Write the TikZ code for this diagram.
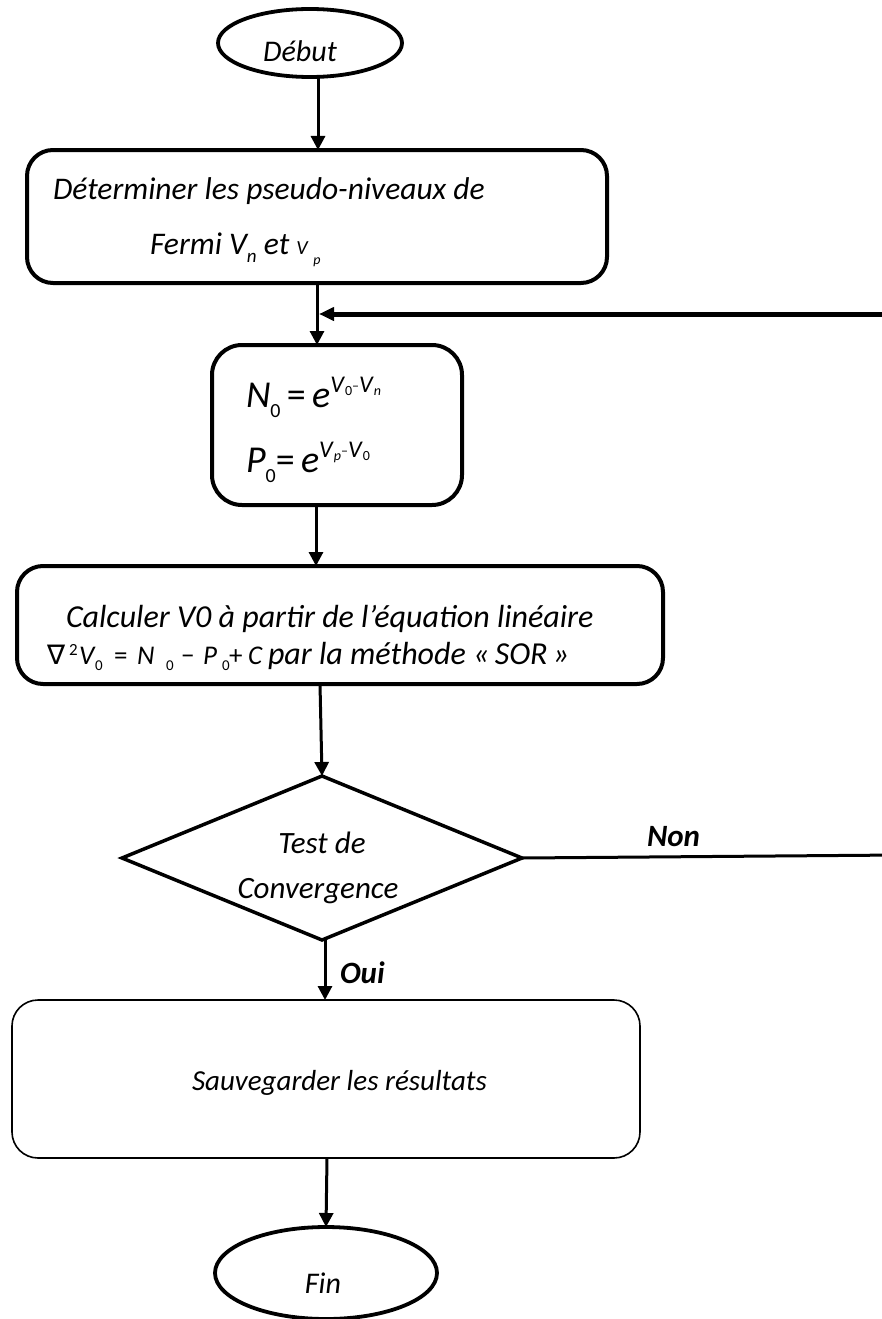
\documentclass[tikz,border=0pt]{standalone}
\usepackage{fontspec}
\setmainfont{Carlito}
\newfontfamily\symfont{DejaVu Sans}
\usetikzlibrary{shapes.geometric,arrows.meta}

% font size shorthand and a zero-width box set at a horizontal offset
\newcommand{\fs}[1]{\fontsize{#1}{#1}\selectfont}
\newcommand{\putat}[2]{\makebox[0pt][l]{\hspace*{#1pt}#2}}

\begin{document}
\begin{tikzpicture}[x=1pt,y=-1pt,
  every node/.style={inner sep=0pt, outer sep=0pt},
  thickbox/.style={draw, line width=4pt, rounded corners=26pt},
  thinbox/.style={draw, line width=1.6pt, rounded corners=26pt},
  terminal/.style={draw, ellipse, line width=3.8pt},
  decision/.style={draw, diamond, aspect=2.44, line width=3.5pt},
  flow/.style={line width=3pt, -{Triangle[width=14pt,length=14pt]}},
  txt/.style={font=\fs{29}\itshape, anchor=base west},
  lbl/.style={font=\fs{31}\bfseries\itshape, anchor=base west},
]
\useasboundingbox (0,0) rectangle (882,1319);
\clip (0,0) rectangle (882,1319);

% start
\node[terminal, minimum width=184pt, minimum height=68pt] (debut) at (310,43) {};
\node[txt, font=\fs{30}\itshape, anchor=base] (tdebut) at (300,62) {Début};

% step 1
\node[thickbox, minimum width=580pt, minimum height=133pt] (det) at (317,216.5) {};
\node[txt, font=\fs{31.5}\itshape] (t1a) at (53,199) {Déterminer les pseudo-niveaux de};
\node[txt, font=\fs{31.5}\itshape] (t1b) at (150,254) {Fermi \textit{V}\raisebox{-8pt}{\fs{19}\itshape n} et
  {\fs{20}\itshape V}\raisebox{-10pt}{\fs{14}\itshape\, p}};

% step 2: carrier densities
\node[thickbox, rounded corners=30pt, minimum width=250pt, minimum height=160pt] (dens) at (337,425) {};
\node[anchor=base west, font=\fs{38}] (eqn) at (246,407)
  {\textit{N}\raisebox{-10pt}{\fs{20}0}\,=\,\textit{e}\raisebox{15pt}{\fs{24}\textit{V}\raisebox{-3pt}{\fs{14}0}\raisebox{2pt}{\fs{14}–}\textit{V}\raisebox{-3pt}{\fs{14}\itshape n}}};
\node[anchor=base west, font=\fs{38}] (eqp) at (246,472)
  {\textit{P}\raisebox{-10pt}{\fs{20}0}=\,\textit{e}\raisebox{15pt}{\fs{24}\textit{V}\raisebox{-3pt}{\fs{14}\itshape p}\raisebox{2pt}{\fs{14}–}\textit{V}\raisebox{-3pt}{\fs{14}0}}};

% step 3: Poisson equation
\node[thickbox, minimum width=646pt, minimum height=118pt] (poisson) at (340,625) {};
\node[txt, font=\fs{32}\itshape] (t3a) at (66,627) {Calculer V0 à partir de l’équation linéaire};
\node[anchor=base west, font=\fs{27}] (t3eq) at (47,664) {%
  \putat{0}{{\symfont ∇}}%
  \putat{22}{\raisebox{9pt}{\fs{17}2}}%
  \putat{32}{\textit{V}}%
  \putat{48}{\raisebox{-6pt}{\fs{15}0}}%
  \putat{67}{=}%
  \putat{90}{\textit{N}}%
  \putat{119}{\raisebox{-6pt}{\fs{15}0}}%
  \putat{134}{−}%
  \putat{156}{\textit{P}}%
  \putat{175}{\raisebox{-6pt}{\fs{15}0}}%
  \putat{182}{+}%
  \putat{201}{\textit{C}}\hspace*{220pt}};
\node[txt, font=\fs{32}\itshape] (t3b) at (268,664) {par la méthode «\,SOR\,»};

% convergence test
\node[decision, minimum width=400pt, minimum height=164pt] (test) at (322,858) {};
\node[txt, font=\fs{31}\itshape, anchor=base] (t4a) at (322,853) {Test de};
\node[txt, font=\fs{31}\itshape, anchor=base] (t4b) at (318,898) {Convergence};

% save
\node[thinbox, minimum width=628pt, minimum height=158pt] (save) at (326,1079) {};
\node[txt] (t5) at (192,1090) {Sauvegarder les résultats};

% end
\node[terminal, minimum width=222pt, minimum height=92pt] (fin) at (326,1273) {};
\node[txt, font=\fs{30}\itshape, anchor=base] (tfin) at (323,1293) {Fin};

% connectors
\coordinate (join) at (319,314);
\coordinate (nonend) at (900,855);
\coordinate (backstart) at (900,314);
\draw[flow] ([xshift=8pt]debut.south) -- ([xshift=1pt]det.north);
\draw[flow] ([xshift=0pt]det.south) -- ([xshift=-20pt]dens.north);
\draw[flow] ([xshift=-21pt]dens.south) -- ([xshift=-24pt]poisson.north);
\draw[flow] ([xshift=-20pt]poisson.south) -- (test.north);
\draw[flow] ([xshift=3pt]test.south) -- ([xshift=-1pt]save.north);
\draw[flow] ([xshift=1pt]save.south) -- (fin.north);
\draw[line width=3pt] (test.east) -- (nonend) -- (backstart);
\draw[line width=5pt, -{Triangle[width=13pt,length=15pt]}] (backstart) -- (join);

\node[lbl] (oui) at (340,983) {Oui};
\node[lbl] (non) at (647,846) {Non};
\end{tikzpicture}
\end{document}
